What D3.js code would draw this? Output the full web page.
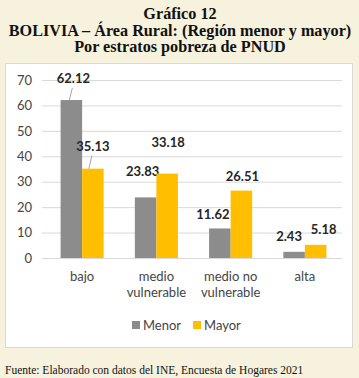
<!DOCTYPE html>
<html>
<head>
<meta charset="utf-8">
<script src="https://cdn.jsdelivr.net/npm/d3@7"></script>
<style>
  body { margin: 0; background: #f6f2de; }
  svg { display: block; }
</style>
</head>
<body>
<div class="svg_container"></div>
<script>
// data
var categories = [["bajo"], ["medio", "vulnerable"], ["medio no", "vulnerable"], ["alta"]];
var seriesNames = ["Menor", "Mayor"];
var menor = [62.12, 23.83, 11.62, 2.43];
var mayor = [35.13, 33.18, 26.51, 5.18];
var yTicks = [0, 10, 20, 30, 40, 50, 60, 70];

// label nudges (dx, dy) to mimic hand placed labels
var labelNudge = {
  Menor: [[2, -13], [-3, -17], [-7, -5], [-5, -7]],
  Mayor: [[0, -14], [1, -23], [1, -6], [8, -7]]
};
var colors = { Menor: "#8c8c8c", Mayor: "#ffbf00" };
var sans = "Lato, 'Open Sans', sans-serif";

var W = 359, H = 378;
var svg = d3.select(".svg_container").append("svg")
  .attr("width", W)
  .attr("height", H);

svg.append("rect").attr("width", W).attr("height", H).attr("fill", "#f6f2de");

// titles
var titles = ["Gráfico 12", "BOLIVIA – Área Rural: (Región menor y mayor)", "Por estratos pobreza de PNUD"];
svg.selectAll(".title")
  .data(titles)
  .enter().append("text")
  .attr("x", 180)
  .attr("y", function(d, i) { return 19 + i * 16.5; })
  .attr("text-anchor", "middle")
  .style("font-family", "'Liberation Serif', 'Times New Roman', serif")
  .style("font-weight", "bold")
  .style("font-size", "16.2px")
  .style("fill", "#111")
  .text(function(d) { return d; });

// chart box
svg.append("rect")
  .attr("x", 5.5).attr("y", 63.5)
  .attr("width", 347).attr("height", 284)
  .attr("fill", "#fff")
  .attr("stroke", "#d9d9d9");

var x = d3.scaleBand()
  .domain(d3.range(categories.length))
  .range([45, 342])
  .paddingInner(0.42)
  .paddingOuter(0.21);
var x1 = d3.scaleBand()
  .domain(seriesNames)
  .range([0, x.bandwidth()]);
var y = d3.scaleLinear()
  .domain([0, 70])
  .range([258, 80]);

// grid + y axis
var yAxis = svg.append("g")
  .attr("transform", "translate(42,0)")
  .call(d3.axisLeft(y).tickValues(yTicks).tickSize(-300).tickPadding(10));
yAxis.select(".domain").remove();
yAxis.selectAll(".tick line").attr("stroke", "#d9d9d9");
yAxis.selectAll(".tick text")
  .style("font-family", sans)
  .style("font-size", "13px")
  .style("fill", "#444");

// bars
var series = seriesNames.map(function(name) {
  return { name: name, values: name === "Menor" ? menor : mayor };
});

var groups = svg.selectAll(".series")
  .data(series)
  .enter().append("g")
  .attr("class", "series");

groups.selectAll("rect")
  .data(function(s) {
    return s.values.map(function(v, i) { return { name: s.name, value: v, i: i }; });
  })
  .enter().append("rect")
  .attr("x", function(d) { return x(d.i) + x1(d.name); })
  .attr("y", function(d) { return y(d.value); })
  .attr("width", x1.bandwidth())
  .attr("height", function(d) { return y(0) - y(d.value); })
  .attr("fill", function(d) { return colors[d.name]; });

// data labels
groups.selectAll("text")
  .data(function(s) {
    return s.values.map(function(v, i) { return { name: s.name, value: v, i: i }; });
  })
  .enter().append("text")
  .attr("x", function(d) { return x(d.i) + x1(d.name) + x1.bandwidth() / 2 + labelNudge[d.name][d.i][0]; })
  .attr("y", function(d) { return y(d.value) - 4 + labelNudge[d.name][d.i][1]; })
  .attr("text-anchor", "middle")
  .style("font-family", sans)
  .style("font-weight", "bold")
  .style("font-size", "13px")
  .style("fill", "#262626")
  .text(function(d) { return d.value.toFixed(2); });

// leader lines for the two moved labels in "bajo"
[["Menor", 62.12], ["Mayor", 35.13]].forEach(function(p) {
  var cx = x(0) + x1(p[0]) + x1.bandwidth() / 2;
  var n = labelNudge[p[0]][0];
  svg.append("line")
    .attr("x1", cx + n[0] - 1).attr("y1", y(p[1]) + n[1] + 1)
    .attr("x2", cx + n[0] - 4).attr("y2", y(p[1]))
    .attr("stroke", "#a6a6a6");
});

// category labels
var cat = svg.selectAll(".cat")
  .data(categories)
  .enter().append("text")
  .attr("text-anchor", "middle")
  .style("font-family", sans)
  .style("font-size", "13px")
  .style("fill", "#444");
cat.selectAll("tspan")
  .data(function(d, i) { return d.map(function(t) { return { t: t, i: i }; }); })
  .enter().append("tspan")
  .attr("x", function(d) { return x(d.i) + x.bandwidth() / 2; })
  .attr("y", function(d, j) { return 281 + j * 15.5; })
  .text(function(d) { return d.t; });

// legend
var legend = svg.selectAll(".legend")
  .data(seriesNames)
  .enter().append("g")
  .attr("transform", function(d, i) { return "translate(" + (132 + i * 61) + ",321)"; });
legend.append("rect")
  .attr("width", 8).attr("height", 8)
  .attr("fill", function(d) { return colors[d]; });
legend.append("text")
  .attr("x", 11).attr("y", 8.5)
  .style("font-family", sans)
  .style("font-size", "13px")
  .style("fill", "#444")
  .text(function(d) { return d; });

// source
svg.append("text")
  .attr("x", 5).attr("y", 374)
  .style("font-family", "'Liberation Serif', 'Times New Roman', serif")
  .style("font-size", "11.5px")
  .style("fill", "#111")
  .text("Fuente: Elaborado con datos del INE, Encuesta de Hogares 2021");
</script>
</body>
</html>
